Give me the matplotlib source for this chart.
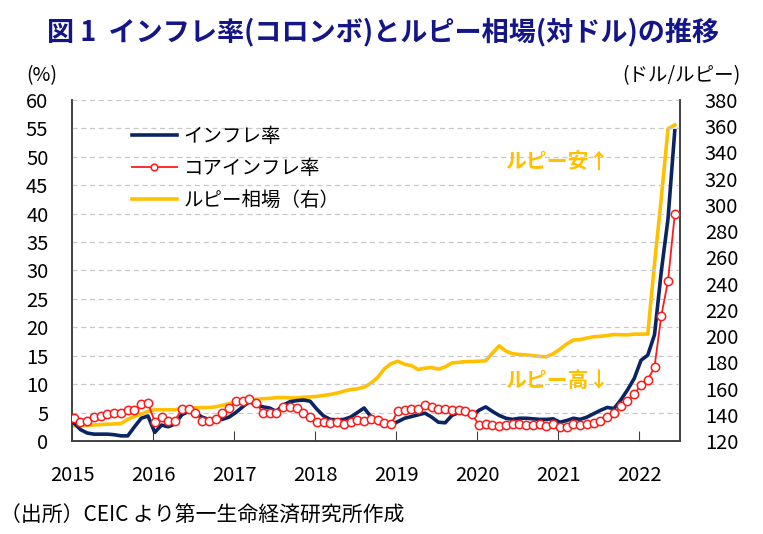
import matplotlib
matplotlib.use("Agg")
import matplotlib.pyplot as plt
import numpy as np

plt.rcParams['font.family'] = ['Noto Sans CJK JP', 'DejaVu Sans']

# monthly data, Jan 2015 - Jun 2022
inflation = [3.2, 2.0, 1.4, 1.2, 1.2, 1.2, 1.1, 0.9, 0.9, 2.5, 4.0, 4.4,
             1.5, 2.8, 2.5, 3.0, 4.6, 5.2, 5.0, 4.2, 3.8, 3.8, 3.8, 4.2,
             5.0, 6.0, 6.9, 6.4, 6.0, 5.8, 5.2, 6.3, 6.9, 7.1, 7.2, 7.0,
             5.6, 4.4, 3.8, 3.7, 3.8, 4.2, 5.0, 5.8, 4.3, 3.2, 2.8, 2.9,
             3.4, 4.0, 4.3, 4.6, 4.9, 4.2, 3.3, 3.2, 4.5, 5.0, 4.8, 4.4,
             5.4, 6.0, 5.2, 4.5, 4.0, 3.8, 4.0, 4.0, 3.9, 3.8, 3.8, 3.9,
             3.3, 3.6, 4.0, 3.8, 4.2, 4.8, 5.4, 5.9, 5.7, 7.2, 9.0, 11.0,
             14.2, 15.1, 18.7, 29.8, 39.1, 54.6]

core = [4.0, 3.4, 3.6, 4.3, 4.4, 4.7, 4.9, 5.0, 5.5, 5.5, 6.5, 6.6,
        3.4, 4.3, 3.6, 3.6, 5.6, 5.6, 4.9, 3.6, 3.6, 3.8, 4.9, 5.8,
        7.0, 7.1, 7.3, 6.6, 5.0, 5.0, 4.9, 5.9, 6.0, 5.8, 5.0, 4.2,
        3.4, 3.3, 3.2, 3.3, 3.0, 3.3, 3.7, 3.6, 3.8, 3.7, 3.1, 3.0,
        5.3, 5.5, 5.6, 5.6, 6.3, 5.9, 5.6, 5.6, 5.5, 5.5, 5.2, 4.7,
        2.8, 3.0, 2.8, 2.7, 2.8, 2.9, 2.9, 2.8, 2.8, 2.9, 2.7, 2.9,
        2.5, 2.4, 3.0, 2.8, 3.0, 3.2, 3.6, 4.2, 4.9, 6.2, 7.0, 8.2,
        9.9, 10.8, 13.0, 22.0, 28.2, 39.9]

rupee = [131.5, 131.8, 132.0, 132.2, 132.5, 132.8, 133.0, 133.3, 136.5, 138.8, 140.5, 142.5,
         143.8, 143.8, 143.8, 143.8, 145.0, 145.2, 145.3, 145.5, 145.5, 146.0, 147.2, 148.4,
         149.5, 150.3, 151.0, 151.8, 152.2, 152.5, 153.0, 153.2, 152.8, 152.8, 153.3, 153.6,
         154.0, 154.7, 155.5, 156.5, 158.0, 159.2, 159.8, 161.0, 164.0, 168.5, 175.0, 179.0,
         180.8, 178.5, 177.5, 174.5, 175.5, 176.0, 174.8, 176.5, 179.5, 180.0, 180.5, 180.6,
         180.8, 181.2, 187.0, 192.5, 188.5, 186.5, 186.0, 185.6, 185.0, 184.5, 184.2, 186.5,
         190.0, 194.0, 197.0, 197.3, 198.5, 199.5, 199.8, 200.4, 201.2, 201.0, 200.9, 201.5,
         201.4, 201.6, 255.0, 305.0, 358.0, 361.0]

years = list(range(2015, 2023))

navy = '#0b2463'
red = '#ff1a1a'
gold = '#ffc000'

x = 2015 + (np.arange(len(inflation)) + 0.25) / 12

fig = plt.figure(figsize=(7.63, 5.34), dpi=100)
ax = fig.add_axes([0.0944, 0.1742, 0.7966, 0.6385])
ax2 = ax.twinx()

ax.plot(x, inflation, color=navy, lw=2.6, label='インフレ率', zorder=3)
ax.plot(x, core, color=red, lw=1.3, marker='o', ms=6, mfc='white', mec=red, mew=1.1,
        label='コアインフレ率', zorder=4)
ax2.plot(x, rupee, color=gold, lw=2.6)
ax.plot([], [], color=gold, lw=2.6, label='ルピー相場（右）')

ax.set_zorder(ax2.get_zorder() + 1)
ax.patch.set_visible(False)

ax.set_xlim(2015, 2022.5)
ax.set_ylim(0, 60)
ax2.set_ylim(120, 380)
ax.set_yticks(np.arange(0, 61, 5))
ax2.set_yticks(np.arange(120, 381, 20))
ax.set_xticks(years)
ax.set_xticklabels([str(y) for y in years])

ax.grid(axis='y', color='#c8c8c8', ls=(0, (4, 3)), lw=0.9)
ax.tick_params(axis='x', direction='in', length=7, pad=17, labelsize=14.5, color='#404040')
ax.tick_params(axis='y', length=0, pad=17, labelsize=14.5)
ax2.tick_params(axis='y', length=0, pad=18, labelsize=14.5)

for a in (ax, ax2):
    a.spines['top'].set_visible(False)
    for s in ('left', 'right', 'bottom'):
        a.spines[s].set_color('#404040')
        a.spines[s].set_linewidth(1.2)

ax.legend(loc='upper left', bbox_to_anchor=(0.07, 0.975), frameon=False, fontsize=14,
          handlelength=2.3, labelspacing=0.55, handletextpad=0.35, markerscale=0.8)

ax.text(0.713, 0.82, 'ルピー安↑', transform=ax.transAxes, color=gold, fontsize=15,
        ha='left', va='center', fontweight='bold')
ax.text(0.713, 0.177, 'ルピー高↓', transform=ax.transAxes, color=gold, fontsize=15,
        ha='left', va='center', fontweight='bold')

fig.text(0.502, 0.94, '図 1  インフレ率(コロンボ)とルピー相場(対ドル)の推移', ha='center',
         va='center', fontsize=19.5, fontweight='bold', color='#15158a')
fig.text(0.055, 0.858, '(%)', ha='center', va='center', fontsize=14)
fig.text(0.97, 0.858, '(ドル/ルピー)', ha='right', va='center', fontsize=14)
fig.text(0.0, 0.035, '（出所）CEIC より第一生命経済研究所作成', ha='left', va='center',
         fontsize=15)

fig.savefig('out.png', dpi=100)
